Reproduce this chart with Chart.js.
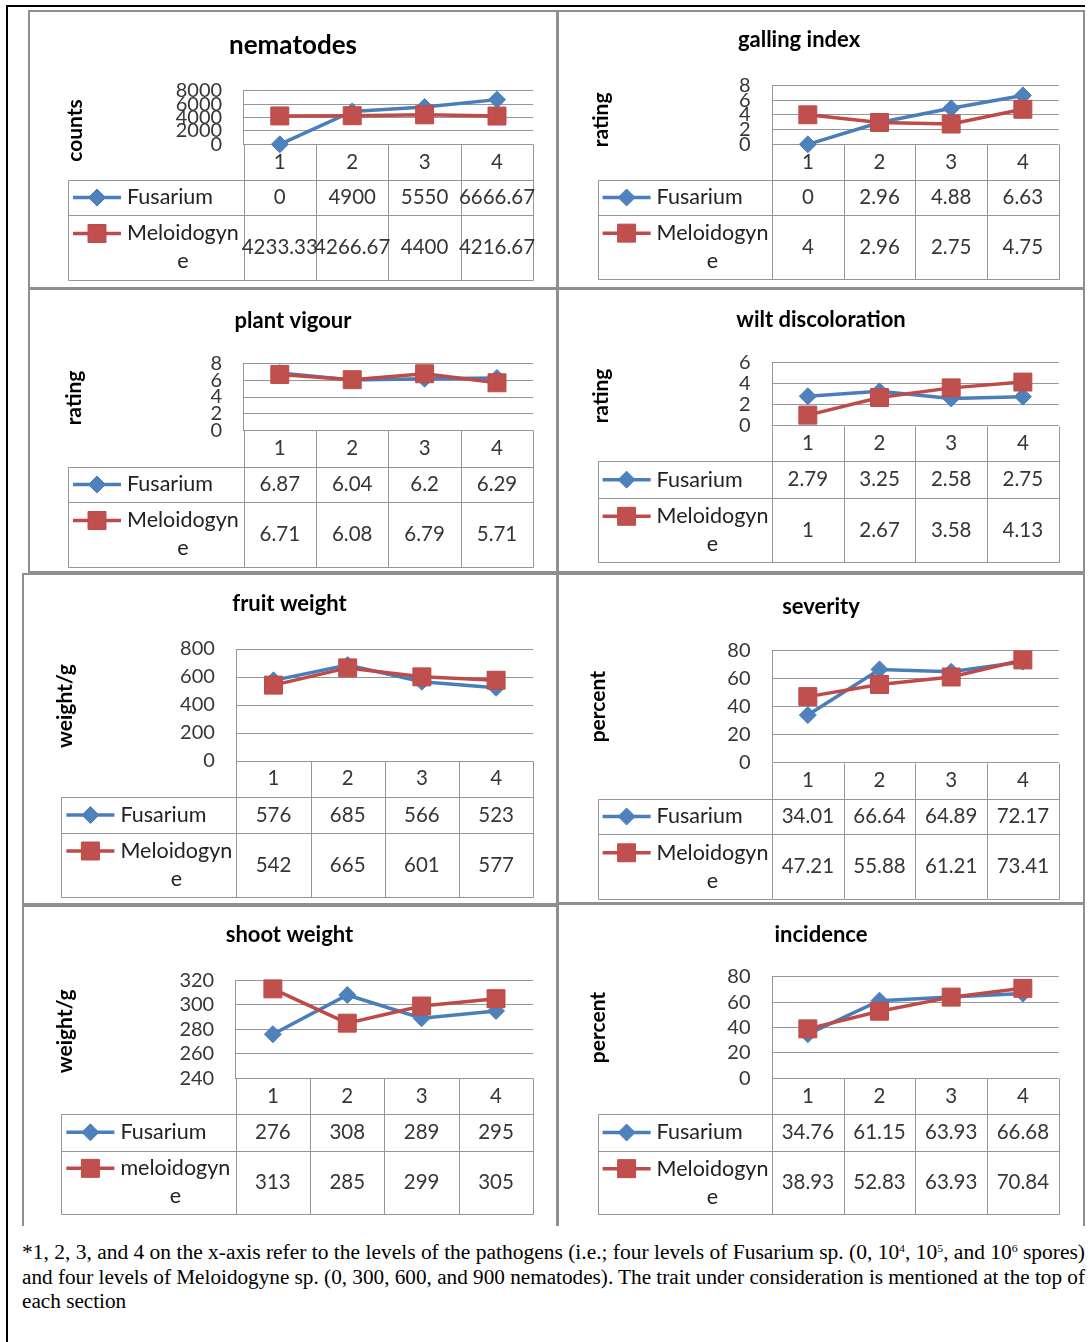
<!DOCTYPE html>
<html>
<head>
<meta charset="utf-8">
<title>Pathogen levels – eight traits</title>
<script src="https://cdn.jsdelivr.net/npm/chart.js@4.4.1/dist/chart.umd.min.js"></script>
<style>
  html, body { margin: 0; padding: 0; background: #fff; }
  body { position: relative; width: 1092px; height: 1342px; overflow: hidden; }
  .rule { position: absolute; background: #000; }
  .box { position: absolute; box-sizing: border-box; border: 2px solid #8f8f8f; }
  .box.open { border-bottom: none; }
  canvas { position: absolute; }
  .note { position: absolute; left: 22px; top: 1240px; font-family: 'Liberation Serif', 'Times New Roman', serif;
          font-size: 20px; line-height: 24.5px; color: #000; }
  .note span { display: inline-block; white-space: nowrap; transform-origin: 0 50%; }
  .note sup { font-size: 11px; line-height: 0; vertical-align: 7px; }
</style>
</head>
<body>
<div class="rule" style="left:6px;top:5px;width:1079px;height:2px"></div>
<div class="rule" style="left:6px;top:5px;width:2px;height:1337px"></div>

<div class="box" style="left:28px;top:10px;width:530px;height:279px"></div>
<div class="box" style="left:557px;top:10px;width:528px;height:279px"></div>
<div class="box" style="left:28px;top:288px;width:530px;height:285px"></div>
<div class="box" style="left:557px;top:288px;width:528px;height:285px"></div>
<div class="box" style="left:22px;top:573px;width:536px;height:332px"></div>
<div class="box" style="left:557px;top:573px;width:528px;height:331px"></div>
<div class="box open" style="left:22px;top:905px;width:536px;height:321px"></div>
<div class="box open" style="left:557px;top:903px;width:528px;height:323px"></div>

<div class="note">
  <div><span id="n1">*1, 2, 3, and 4 on the x-axis refer to the levels of the pathogens (i.e.; four levels of Fusarium sp. (0, 10<sup>4</sup>, 10<sup>5</sup>, and 10<sup>6</sup> spores)</span></div>
  <div><span id="n2">and four levels of Meloidogyne sp. (0, 300, 600, and 900 nematodes). The trait under consideration is mentioned at the top of</span></div>
  <div><span id="n3">each section</span></div>
</div>

<script>
// Pathogen levels shown on every x axis
const levels = ['1', '2', '3', '4'];

// Series names
const fusariumName = 'Fusarium';
const meloidogyneName = 'Meloidogyne';
const meloidogyneNameLower = 'meloidogyne';

// Trait values per level
const nematodesFusarium = [0, 4900, 5550, 6666.67];
const nematodesMeloidogyne = [4233.33, 4266.67, 4400, 4216.67];
const gallingFusarium = [0, 2.96, 4.88, 6.63];
const gallingMeloidogyne = [4, 2.96, 2.75, 4.75];
const vigourFusarium = [6.87, 6.04, 6.2, 6.29];
const vigourMeloidogyne = [6.71, 6.08, 6.79, 5.71];
const wiltFusarium = [2.79, 3.25, 2.58, 2.75];
const wiltMeloidogyne = [1, 2.67, 3.58, 4.13];
const fruitFusarium = [576, 685, 566, 523];
const fruitMeloidogyne = [542, 665, 601, 577];
const severityFusarium = [34.01, 66.64, 64.89, 72.17];
const severityMeloidogyne = [47.21, 55.88, 61.21, 73.41];
const shootFusarium = [276, 308, 289, 295];
const shootMeloidogyne = [313, 285, 299, 305];
const incidenceFusarium = [34.76, 61.15, 63.93, 66.68];
const incidenceMeloidogyne = [38.93, 52.83, 63.93, 70.84];

// Value-axis tick labels
const nematodesTicks = [0, 2000, 4000, 6000, 8000];
const gallingTicks = [0, 2, 4, 6, 8];
const vigourTicks = [0, 2, 4, 6, 8];
const wiltTicks = [0, 2, 4, 6];
const fruitTicks = [0, 200, 400, 600, 800];
const severityTicks = [0, 20, 40, 60, 80];
const shootTicks = [240, 260, 280, 300, 320];
const incidenceTicks = [0, 20, 40, 60, 80];

// Styling
const FONT = 'Lato';
const LINE_GREY = '#969696';
const TEXT = '#363636';
const BLUE_LINE = '#4A7EBB', BLUE_FILL = '#4F81BD';
const RED_LINE = '#BE4B48', RED_FILL = '#C0504D';

// Page geometry for each panel: canvas box, plot box, table rows, title middles
const panels = [
  { title: 'nematodes', yTitle: 'counts', ticks: nematodesTicks,
    names: [fusariumName, meloidogyneName], values: [nematodesFusarium, nematodesMeloidogyne],
    canvas: [29, 11, 557, 288], plot: [243.6, 90.7, 533.2, 144.3], table: [68, 180, 215, 280],
    titleMid: 45.8, titleSize: 26, yTitleMid: 74.8, yTitleShift: 13 },
  { title: 'galling index', yTitle: 'rating', ticks: gallingTicks,
    names: [fusariumName, meloidogyneName], values: [gallingFusarium, gallingMeloidogyne],
    canvas: [513, 11, 1085, 288], plot: [772, 85.3, 1058.7, 144.3], table: [597.6, 180, 215, 279.3],
    titleMid: 39.6, titleSize: 22, yTitleMid: 601.7, yTitleShift: 5 },
  { title: 'plant vigour', yTitle: 'rating', ticks: vigourTicks,
    names: [fusariumName, meloidogyneName], values: [vigourFusarium, vigourMeloidogyne],
    canvas: [29, 288, 557, 572], plot: [243.6, 363.7, 533.2, 430.3], table: [68, 466.7, 502.3, 566.7],
    titleMid: 320.5, titleSize: 22, yTitleMid: 74, yTitleShift: 1 },
  { title: 'wilt discoloration', yTitle: 'rating', ticks: wiltTicks,
    names: [fusariumName, meloidogyneName], values: [wiltFusarium, wiltMeloidogyne],
    canvas: [557, 288, 1085, 572], plot: [772, 362.3, 1058.7, 425.7], table: [597.6, 461, 498.3, 562.3],
    titleMid: 320.3, titleSize: 22, yTitleMid: 601.7, yTitleShift: 2 },
  { title: 'fruit weight', yTitle: 'weight/g', ticks: fruitTicks,
    names: [fusariumName, meloidogyneName], values: [fruitFusarium, fruitMeloidogyne],
    canvas: [22, 573, 557, 904], plot: [236.4, 649, 533.2, 761], table: [61.4, 796.7, 833.3, 896.7],
    titleMid: 603.5, titleSize: 22, yTitleMid: 65, yTitleShift: 1 },
  { title: 'severity', yTitle: 'percent', ticks: severityTicks,
    names: [fusariumName, meloidogyneName], values: [severityFusarium, severityMeloidogyne],
    canvas: [557, 573, 1085, 903], plot: [772, 650.7, 1058.7, 762.7], table: [597.6, 798.7, 834.3, 899.3],
    titleMid: 606.5, titleSize: 22, yTitleMid: 598.3, yTitleShift: 0 },
  { title: 'shoot weight', yTitle: 'weight/g', ticks: shootTicks,
    names: [fusariumName, meloidogyneNameLower], values: [shootFusarium, shootMeloidogyne],
    canvas: [22, 905, 557, 1225], plot: [235.7, 980.3, 533.2, 1078.3], table: [61.4, 1114, 1150.7, 1214],
    titleMid: 935, titleSize: 22, yTitleMid: 65, yTitleShift: 2 },
  { title: 'incidence', yTitle: 'percent', ticks: incidenceTicks,
    names: [fusariumName, meloidogyneName], values: [incidenceFusarium, incidenceMeloidogyne],
    canvas: [557, 903, 1085, 1225], plot: [772, 976.7, 1058.7, 1078.3], table: [597.6, 1114, 1151, 1214.3],
    titleMid: 934.8, titleSize: 22, yTitleMid: 598.3, yTitleShift: 0 }
];

// Break a label character by character so each line fits the given width
function wrapChars(ctx, text, maxW) {
  const lines = [];
  let cur = '';
  for (const ch of text) {
    if (cur && ctx.measureText(cur + ch).width > maxW) { lines.push(cur); cur = ch; }
    else cur += ch;
  }
  lines.push(cur);
  return lines;
}

// Legend key: a short stretch of the series line with its marker
function drawKey(ctx, ds, x0, x1, y) {
  ctx.save();
  ctx.strokeStyle = ds.borderColor;
  ctx.lineWidth = ds.borderWidth;
  ctx.beginPath(); ctx.moveTo(x0, y); ctx.lineTo(x1, y); ctx.stroke();
  const cx = (x0 + x1) / 2, r = ds.pointRadius;
  ctx.fillStyle = ds.pointBackgroundColor;
  ctx.strokeStyle = ds.pointBorderColor;
  ctx.lineWidth = ds.pointBorderWidth;
  ctx.beginPath();
  if (ds.pointStyle === 'rectRot') {
    ctx.moveTo(cx - r, y); ctx.lineTo(cx, y - r); ctx.lineTo(cx + r, y); ctx.lineTo(cx, y + r); ctx.closePath();
  } else {
    const s = r * Math.SQRT1_2;
    ctx.rect(cx - s, y - s, 2 * s, 2 * s);
  }
  ctx.fill(); ctx.stroke();
  ctx.restore();
}

// Data table under the plot: level header row, then one row per series
const dataTable = {
  id: 'dataTable',
  beforeDatasetsDraw(chart, args, o) {
    const ctx = chart.ctx, a = chart.chartArea, xs = chart.scales.x;
    const labels = chart.data.labels;
    const centers = labels.map((_, i) => xs.getPixelForValue(i));
    const edges = [a.left];
    for (let i = 1; i < centers.length; i++) edges.push((centers[i - 1] + centers[i]) / 2);
    edges.push(a.right);
    const [h, r1, b] = o.rows;
    const left = o.left;
    const px = v => Math.round(v) + 0.5;

    ctx.save();
    ctx.strokeStyle = LINE_GREY;
    ctx.lineWidth = 1;
    ctx.beginPath();
    edges.forEach(x => { ctx.moveTo(px(x), px(a.bottom)); ctx.lineTo(px(x), px(b)); });
    ctx.moveTo(px(left), px(h)); ctx.lineTo(px(left), px(b));
    [h, r1, b].forEach(y => { ctx.moveTo(px(left), px(y)); ctx.lineTo(px(a.right), px(y)); });
    ctx.stroke();

    ctx.fillStyle = TEXT;
    ctx.textAlign = 'center';
    ctx.textBaseline = 'middle';
    ctx.font = o.fontSize + 'px ' + FONT;
    labels.forEach((lab, i) => ctx.fillText(lab, centers[i], (a.bottom + h) / 2));

    const bands = [[h, r1], [r1, b]];
    chart.data.datasets.forEach((ds, k) => {
      const [top, bot] = bands[k];
      const mid = (top + bot) / 2;
      ctx.font = o.fontSize + 'px ' + FONT;
      ctx.fillStyle = TEXT;
      ds.data.forEach((v, i) => ctx.fillText(String(v), centers[i], mid));
      ctx.font = o.nameSize + 'px ' + FONT;
      ctx.fillStyle = '#222';
      const textX = left + o.textInset;
      const lines = wrapChars(ctx, ds.label, a.left - textX - o.wrapSlack);
      const blockW = Math.max(...lines.map(s => ctx.measureText(s).width));
      const firstY = mid - (lines.length - 1) * o.lineGap / 2;
      lines.forEach((s, j) => ctx.fillText(s, textX + blockW / 2, firstY + j * o.lineGap));
      drawKey(ctx, ds, left + o.keyInset, left + o.keyInset + o.keyLen, firstY);
    });
    ctx.restore();
  }
};

// Lets a panel nudge its rotated value-axis title along the axis
const axisTitleNudge = {
  id: 'axisTitleNudge',
  beforeDraw(chart, args, o) {
    const s = chart.scales.y;
    if (!s || s._nudged) return;
    const orig = s.drawTitle;
    s.drawTitle = function () {
      this.ctx.save();
      this.ctx.translate(0, o.shift || 0);
      orig.call(this);
      this.ctx.restore();
    };
    s._nudged = true;
  }
};

function buildChart(p) {
  const [cx0, cy0, cx1, cy1] = p.canvas;
  const [pl, pt, pr, pb] = p.plot;
  const W = cx1 - cx0, H = cy1 - cy0;
  const side = cx1 - pr;                 // same padding both sides keeps the title centred
  const yWidth = pl - cx0 - side;
  const xHeight = cy1 - pb;
  const tLH = p.titleSize * 1.2;
  const aSize = 21, aLH = aSize * 1.2;

  const canvas = document.createElement('canvas');
  canvas.width = W; canvas.height = H;
  canvas.style.left = cx0 + 'px';
  canvas.style.top = cy0 + 'px';
  document.body.appendChild(canvas);

  const ticks = p.ticks;
  return new Chart(canvas.getContext('2d'), {
    type: 'line',
    data: {
      labels: levels,
      datasets: [
        { label: p.names[0], data: p.values[0], order: 2,
          borderColor: BLUE_LINE, backgroundColor: BLUE_FILL, borderWidth: 3.5,
          pointStyle: 'rectRot', pointRadius: 8.5, pointHoverRadius: 8.5,
          pointBackgroundColor: BLUE_FILL, pointBorderColor: BLUE_LINE, pointBorderWidth: 1,
          tension: 0, clip: false },
        { label: p.names[1], data: p.values[1], order: 1,
          borderColor: RED_LINE, backgroundColor: RED_FILL, borderWidth: 3.5,
          pointStyle: 'rect', pointRadius: 12.7, pointHoverRadius: 12.7,
          pointBackgroundColor: RED_FILL, pointBorderColor: RED_LINE, pointBorderWidth: 1,
          tension: 0, clip: false }
      ]
    },
    options: {
      responsive: false,
      animation: false,
      events: [],
      layout: { autoPadding: false, padding: { left: side, right: side, top: 0, bottom: 0 } },
      plugins: {
        legend: { display: false },
        tooltip: { enabled: false },
        title: {
          display: true, text: p.title, color: '#000',
          font: { family: FONT, size: p.titleSize, weight: 'bold', lineHeight: 1.2 },
          padding: { top: p.titleMid - cy0 - tLH / 2, bottom: pt - p.titleMid - tLH / 2 }
        },
        dataTable: {
          left: p.table[0] - cx0,
          rows: [p.table[1] - cy0, p.table[2] - cy0, p.table[3] - cy0],
          fontSize: 20.5, nameSize: 21.5, lineGap: 28, keyInset: 5, keyLen: 48, textInset: 59, wrapSlack: 2
        },
        axisTitleNudge: { shift: p.yTitleShift }
      },
      scales: {
        x: {
          type: 'category', offset: true,
          ticks: { display: false }, grid: { display: false }, border: { display: false },
          afterFit: s => { s.height = xHeight; }
        },
        y: {
          min: ticks[0], max: ticks[ticks.length - 1],
          afterBuildTicks: s => { s.ticks = ticks.map(v => ({ value: v })); },
          ticks: { autoSkip: false, padding: 21.5, color: TEXT, font: { family: FONT, size: 20 },
                   callback: v => String(v) },
          grid: { color: LINE_GREY, lineWidth: 1, drawTicks: false },
          border: { display: true, color: LINE_GREY, width: 1 },
          title: {
            display: true, text: p.yTitle, color: '#000',
            font: { family: FONT, size: aSize, weight: 'bold', lineHeight: 1.2 },
            padding: { top: p.yTitleMid - cx0 - side - aLH / 2, bottom: 0 }
          },
          afterFit: s => { s.width = yWidth; }
        }
      }
    },
    plugins: [dataTable, axisTitleNudge]
  });
}

// Stretch the two full footnote lines to the text block width
function fitNote() {
  const target = 1063;
  const s1 = document.getElementById('n1'), s2 = document.getElementById('n2'), s3 = document.getElementById('n3');
  const k1 = target / s1.getBoundingClientRect().width;
  const k2 = target / s2.getBoundingClientRect().width;
  s1.style.transform = 'scaleX(' + k1 + ')';
  s2.style.transform = 'scaleX(' + k2 + ')';
  s3.style.transform = 'scaleX(' + k2 + ')';
}

Chart.defaults.font.family = FONT;
const ready = document.fonts && document.fonts.load
  ? Promise.all([document.fonts.load('20px Lato'), document.fonts.load('bold 20px Lato'), document.fonts.load('20px "Liberation Serif"')]).catch(() => {})
  : Promise.resolve();
ready.then(() => {
  fitNote();
  panels.forEach(buildChart);
});
</script>
</body>
</html>
